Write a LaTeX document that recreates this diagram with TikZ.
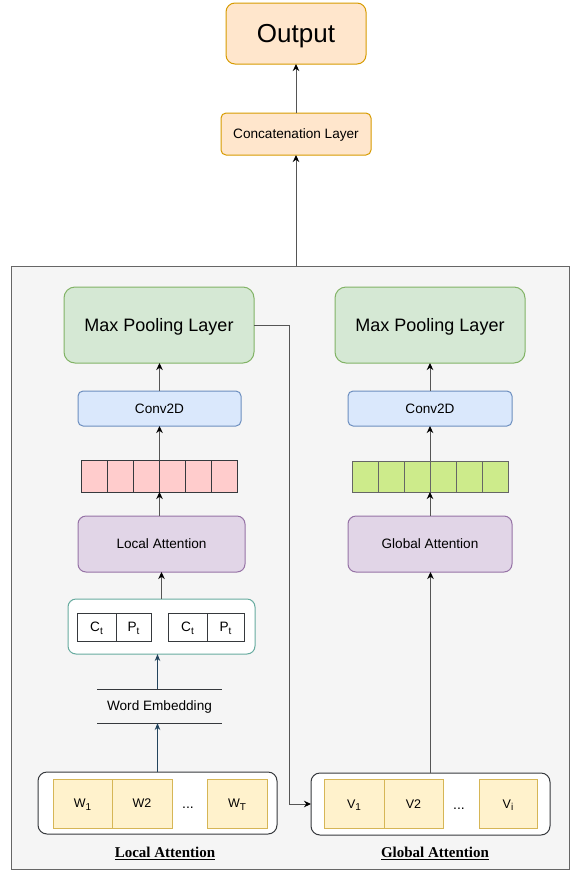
\documentclass[tikz,border=0pt]{standalone}
\usepackage{fontspec}
\setmainfont{Liberation Sans}
\newfontfamily\serifbf{Liberation Serif}
\usetikzlibrary{arrows.meta}
\definecolor{outF}{HTML}{FFE6CC}\definecolor{outD}{HTML}{D79B00}
\definecolor{grF}{HTML}{D5E8D4}\definecolor{grD}{HTML}{82B366}
\definecolor{blF}{HTML}{DAE8FC}\definecolor{blD}{HTML}{6C8EBF}
\definecolor{puF}{HTML}{E1D5E7}\definecolor{puD}{HTML}{9673A6}
\definecolor{pkF}{HTML}{FFCCCC}\definecolor{dkD}{HTML}{36393D}
\definecolor{lgF}{HTML}{CDEB8B}
\definecolor{teD}{HTML}{67AB9F}
\definecolor{yeF}{HTML}{FFF2CC}\definecolor{yeD}{HTML}{D6B656}
\definecolor{bgF}{HTML}{F5F5F5}\definecolor{bgD}{HTML}{666666}
\definecolor{nvy}{HTML}{23445D}
\definecolor{lnC}{HTML}{555555}
\newcommand\sbx[1]{\raisebox{-0.4ex}{\fontsize{10}{12}\selectfont #1}}
\tikzset{
  x=1pt,y=-1pt,
  base/.style={inner sep=0pt,outer sep=0pt,line width=1pt,align=center,text depth=0pt,font=\fontsize{13.6}{16}\selectfont},
  rbox/.style={base,draw,rounded corners=#1},
  rbox/.default=6pt,
  cell/.style={base,draw},
  arr/.style={draw=lnC,line width=1pt,-{Stealth[length=7pt,width=6.5pt,inset=2.2pt,color=black,fill=black]}},
  narr/.style={draw=nvy,line width=1pt,-{Stealth[length=7pt,width=5.5pt,inset=2.2pt,fill=nvy]}},
  blab/.style={base,font=\serifbf\bfseries\fontsize{15}{18}\selectfont},
}
\begin{document}
\begin{tikzpicture}
\useasboundingbox (0,0) rectangle (570,871);
% outer background
\node[base,draw=bgD,fill=bgF,minimum width=558pt,minimum height=603pt] (outer) at (290.5,567.5) {};
% top
\node[rbox=9pt,draw=outD,fill=outF,minimum width=140pt,minimum height=61pt,font=\fontsize{26}{30}\selectfont] (output) at (296,33.5) {Output};
\node[rbox=5pt,draw=outD,fill=outF,minimum width=150pt,minimum height=42pt] (concat) at (296,134) {Concatenation Layer};
% max pooling
\node[rbox=11pt,draw=grD,fill=grF,minimum width=190pt,minimum height=76pt,font=\fontsize{18}{22}\selectfont] (maxL) at (159,325) {Max Pooling Layer};
\node[rbox=11pt,draw=grD,fill=grF,minimum width=190pt,minimum height=76pt,font=\fontsize{18}{22}\selectfont] (maxR) at (430,325) {Max Pooling Layer};
% conv
\node[rbox=5pt,draw=blD,fill=blF,minimum width=163pt,minimum height=35pt] (convL) at (159.5,408.5) {Conv2D};
\node[rbox=5pt,draw=blD,fill=blF,minimum width=164pt,minimum height=35pt] (convR) at (430,408.5) {Conv2D};
% arrays
\node[base,minimum width=156pt,minimum height=32pt] (pinkA) at (159.5,476) {};
\foreach \i in {0,...,5}{
  \node[cell,draw=dkD,fill=pkF,minimum width=26pt,minimum height=32pt] (pk\i) at (94.5+26*\i,476) {};
}
\node[base,minimum width=156pt,minimum height=31pt] (greenA) at (430,476.5) {};
\foreach \i in {0,...,5}{
  \node[cell,draw=bgD,fill=lgF,minimum width=26pt,minimum height=31pt] (gn\i) at (365+26*\i,476.5) {};
}
% attention
\node[rbox=8pt,draw=puD,fill=puF,minimum width=167pt,minimum height=56pt] (locA) at (161.5,544) {Local Attention};
\node[rbox=8pt,draw=puD,fill=puF,minimum width=164pt,minimum height=56pt] (gloA) at (430,544) {Global Attention};
% Ct Pt container
\node[rbox=8pt,draw=teD,fill=white,minimum width=187pt,minimum height=55pt] (cp) at (161.5,626.5) {};
\node[cell,draw=dkD,fill=white,minimum width=39pt,minimum height=28pt] (ct1) at (96.5,627) {C\sbx{t}};
\node[cell,draw=dkD,fill=white,minimum width=35pt,minimum height=28pt] (pt1) at (133.5,627) {P\sbx{t}};
\node[cell,draw=dkD,fill=white,minimum width=39pt,minimum height=28pt] (ct2) at (187.5,627) {C\sbx{t}};
\node[cell,draw=dkD,fill=white,minimum width=37pt,minimum height=28pt] (pt2) at (225.5,627) {P\sbx{t}};
% word embedding
\node[base,minimum width=125pt,minimum height=34pt] (we) at (159.5,706) {Word Embedding};
\draw[draw=dkD,line width=1pt] (we.north west) -- (we.north east) (we.south west) -- (we.south east);
% W box
\node[rbox=9pt,draw=dkD,fill=white,minimum width=239pt,minimum height=62pt] (wbox) at (157.5,803) {};
\node[cell,draw=yeD,fill=yeF,minimum width=59pt,minimum height=49pt,font=\fontsize{12.5}{15}\selectfont] (w1) at (82.5,803.5) {W\sbx{1}};
\node[cell,draw=yeD,fill=yeF,minimum width=60pt,minimum height=49pt,font=\fontsize{12.5}{15}\selectfont] (w2) at (142,803.5) {W2};
\node[base,font=\fontsize{14}{16}\selectfont] (wdots) at (188,808) {...};
\node[cell,draw=yeD,fill=yeF,minimum width=60pt,minimum height=49pt,font=\fontsize{12.5}{15}\selectfont] (wt) at (237,803.5) {W\sbx{T}};
% V box
\node[rbox=9pt,draw=dkD,fill=white,minimum width=239pt,minimum height=62pt] (vbox) at (430.5,804) {};
\node[cell,draw=yeD,fill=yeF,minimum width=60pt,minimum height=49pt,font=\fontsize{12.5}{15}\selectfont] (v1) at (354,804) {V\sbx{1}};
\node[cell,draw=yeD,fill=yeF,minimum width=59pt,minimum height=49pt,font=\fontsize{12.5}{15}\selectfont] (v2) at (413.5,804) {V2};
\node[base,font=\fontsize{14}{16}\selectfont] (vdots) at (459,809) {...};
\node[cell,draw=yeD,fill=yeF,minimum width=58pt,minimum height=49pt,font=\fontsize{12.5}{15}\selectfont] (vi) at (508,804) {V\sbx{i}};
% bottom labels
\node[blab] (labL) at (165,852) {\underline{Local Attention}};
\node[blab] (labG) at (435,852) {\underline{Global Attention}};
% connectors
\draw[arr] (concat.north) -- (output.south);
\draw[arr] (concat.south |- outer.north) -- (concat.south);
\draw[arr] (convL.north) -- (convL.north |- maxL.south);
\draw[arr] (pinkA.north) -- (pinkA.north |- convL.south);
\draw[arr] (pinkA.south |- locA.north) -- (pinkA.south);
\draw[arr] (cp.north) -- (cp.north |- locA.south);
\draw[narr] (wbox.north |- we.north) -- (wbox.north |- cp.south);
\draw[narr] (wbox.north) -- (wbox.north |- we.south);
\coordinate (bend) at (289.5,804);
\draw[arr] (maxL.east) -| (bend) -- (vbox.west);
\draw[arr] (vbox.north) -- (vbox.north |- gloA.south);
\draw[arr] (gloA.north) -- (gloA.north |- greenA.south);
\draw[arr] (greenA.north) -- (greenA.north |- convR.south);
\draw[arr] (convR.north) -- (convR.north |- maxR.south);
\end{tikzpicture}
\end{document}
